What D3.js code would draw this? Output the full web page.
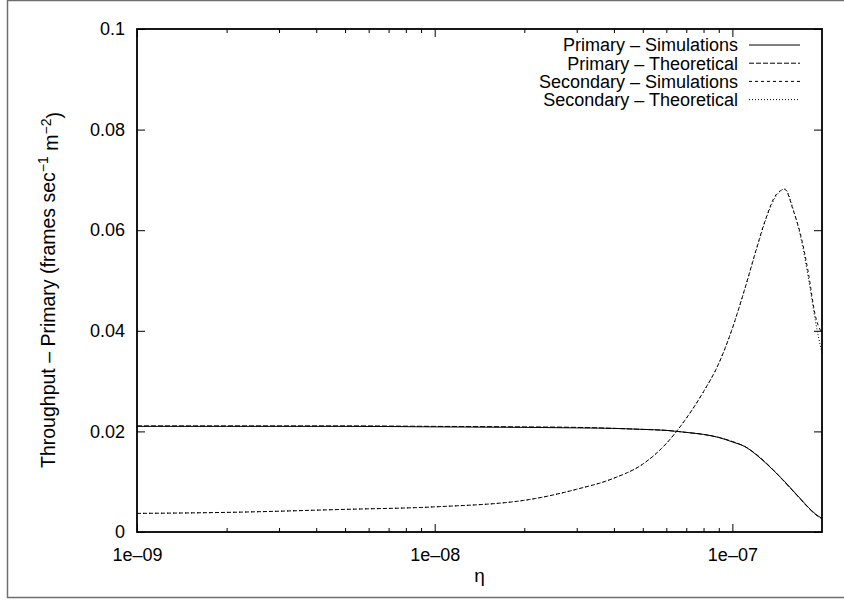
<!DOCTYPE html>
<html>
<head>
<meta charset="utf-8">
<script src="https://cdn.jsdelivr.net/npm/d3@7"></script>
<style>
  body { margin: 0; background: #fff; }
  text { font-family: "Liberation Sans", Arial, sans-serif; fill: #000; }
</style>
</head>
<body>
<script>
// eta grid shared by all four series
var eta = [1e-9, 2e-9, 5e-9, 1e-8, 2e-8, 3e-8, 4e-8, 5e-8, 6e-8, 7e-8, 8e-8, 9e-8,
           1e-7, 1.1e-7, 1.2e-7, 1.3e-7, 1.4e-7, 1.5e-7, 1.6e-7, 1.7e-7, 1.8e-7, 1.9e-7, 2e-7];

var primarySim = [0.0210, 0.0210, 0.0210, 0.0209, 0.0208, 0.0207, 0.0206, 0.0204, 0.0202, 0.0198, 0.0194, 0.0188,
                  0.0179, 0.0170, 0.0154, 0.0136, 0.0118, 0.0100, 0.0082, 0.0065, 0.0049, 0.0036, 0.0027];
var primaryTheo = [0.0211, 0.0211, 0.0211, 0.0210, 0.0209, 0.0208, 0.0206, 0.0204, 0.0202, 0.0198, 0.0194, 0.0188,
                   0.0180, 0.0170, 0.0155, 0.0137, 0.0118, 0.0099, 0.0081, 0.0064, 0.0048, 0.0035, 0.0026];
var secondarySim = [0.0037, 0.0039, 0.0045, 0.0050, 0.0063, 0.0085, 0.0107, 0.0135, 0.0176, 0.0226, 0.0279, 0.0335,
                    0.0405, 0.0483, 0.0560, 0.0626, 0.0670, 0.0681, 0.0640, 0.0588, 0.0515, 0.0430, 0.0395];
var secondaryTheo = [0.0037, 0.0039, 0.0045, 0.0050, 0.0063, 0.0085, 0.0107, 0.0135, 0.0176, 0.0226, 0.0279, 0.0335,
                     0.0405, 0.0482, 0.0558, 0.0624, 0.0667, 0.0682, 0.0642, 0.0583, 0.0505, 0.0420, 0.0355];

var seriesNames = ["Primary \u2013 Simulations", "Primary \u2013 Theoretical",
                   "Secondary \u2013 Simulations", "Secondary \u2013 Theoretical"];
var seriesDash = [null, "5,2", "3,3", "1,2"];

var xMajor = [1e-9, 1e-8, 1e-7];
var xMajorLabels = ["1e\u201309", "1e\u201308", "1e\u201307"];
var yTicks = [0, 0.02, 0.04, 0.06, 0.08, 0.1];
var yTickLabels = ["0", "0.02", "0.04", "0.06", "0.08", "0.1"];

var width = 844, height = 601;
var margin = {left: 137, right: 22, top: 29, bottom: 69};
var plotW = width - margin.left - margin.right,
    plotH = height - margin.top - margin.bottom;
var fontSize = "18px";

var svg = d3.select("body").append("svg")
    .attr("width", width)
    .attr("height", height);

// outer frame
svg.append("rect")
    .attr("x", 7.5).attr("y", 0.5)
    .attr("width", 860).attr("height", 597)
    .attr("fill", "none").attr("stroke", "#6e6e6e").attr("stroke-width", 1.5);

var g = svg.append("g")
    .attr("transform", "translate(" + margin.left + "," + margin.top + ")");

var x = d3.scaleLog().domain([1e-9, 2e-7]).range([0, plotW]);
var y = d3.scaleLinear().domain([0, 0.1]).range([plotH, 0]);

// minor ticks 2..9 in each decade
var xMinor = [];
[1e-9, 1e-8, 1e-7].forEach(function(d) {
    for (var k = 2; k <= 9; k++) {
        var v = d * k;
        if (v < 2e-7 - 1e-12) xMinor.push(v);
    }
});

function styleAxis(sel) {
    sel.select(".domain").remove();
    sel.selectAll("line").attr("stroke", "#000").attr("stroke-width", 1);
    sel.selectAll("text").style("font-size", fontSize);
}

g.append("g").attr("transform", "translate(0," + plotH + ")")
    .call(d3.axisBottom(x).tickValues(xMajor).tickSize(-8).tickPadding(12)
        .tickFormat(function(d, i) { return xMajorLabels[i]; }))
    .call(styleAxis)
    .selectAll("text").attr("dy", "0.92em");
g.append("g").attr("transform", "translate(0," + plotH + ")")
    .call(d3.axisBottom(x).tickValues(xMinor).tickSize(-4).tickFormat(""))
    .call(styleAxis);
g.append("g")
    .call(d3.axisTop(x).tickValues(xMajor).tickSize(-8).tickFormat(""))
    .call(styleAxis);
g.append("g")
    .call(d3.axisTop(x).tickValues(xMinor).tickSize(-4).tickFormat(""))
    .call(styleAxis);

g.append("g")
    .call(d3.axisLeft(y).tickValues(yTicks).tickSize(-8).tickPadding(12)
        .tickFormat(function(d, i) { return yTickLabels[i]; }))
    .call(styleAxis);
g.append("g").attr("transform", "translate(" + plotW + ",0)")
    .call(d3.axisRight(y).tickValues(yTicks).tickSize(-8).tickFormat(""))
    .call(styleAxis);

// curves
var allSeries = [primarySim, primaryTheo, secondarySim, secondaryTheo];
var line = d3.line()
    .curve(d3.curveMonotoneX)
    .x(function(d) { return x(d[0]); })
    .y(function(d) { return y(d[1]); });

allSeries.forEach(function(vals, i) {
    var pts = eta.map(function(e, j) { return [e, vals[j]]; });
    g.append("path")
        .datum(pts)
        .attr("d", line)
        .attr("fill", "none")
        .attr("stroke", "#000")
        .attr("stroke-width", 1)
        .attr("stroke-dasharray", seriesDash[i]);
});

// border
g.append("rect")
    .attr("width", plotW).attr("height", plotH)
    .attr("fill", "none").attr("stroke", "#000").attr("stroke-width", 1.8);

// legend
var legend = g.append("g").attr("transform", "translate(" + (738 - margin.left) + "," + (45 - margin.top) + ")");
seriesNames.forEach(function(name, i) {
    var row = legend.append("g").attr("transform", "translate(0," + (i * 18.2) + ")");
    row.append("text")
        .attr("text-anchor", "end")
        .attr("dy", "0.35em")
        .style("font-size", fontSize)
        .text(name);
    row.append("line")
        .attr("x1", 11).attr("x2", 62)
        .attr("stroke", "#000").attr("stroke-width", 1)
        .attr("stroke-dasharray", seriesDash[i]);
});

// axis labels
svg.append("text")
    .attr("x", margin.left + plotW / 2)
    .attr("y", 582)
    .attr("text-anchor", "middle")
    .style("font-size", "19px")
    .text("\u03b7");

var yl = svg.append("text")
    .attr("transform", "translate(55,290) rotate(-90)")
    .attr("text-anchor", "middle")
    .style("font-size", "19.5px");
yl.append("tspan").text("Throughput \u2013 Primary (frames sec");
yl.append("tspan").attr("dy", "-0.5em").style("font-size", "14px").text("\u22121");
yl.append("tspan").attr("dy", "0.5em").text(" m");
yl.append("tspan").attr("dy", "-0.5em").style("font-size", "14px").text("\u22122");
yl.append("tspan").attr("dy", "0.5em").text(")");
</script>
</body>
</html>
